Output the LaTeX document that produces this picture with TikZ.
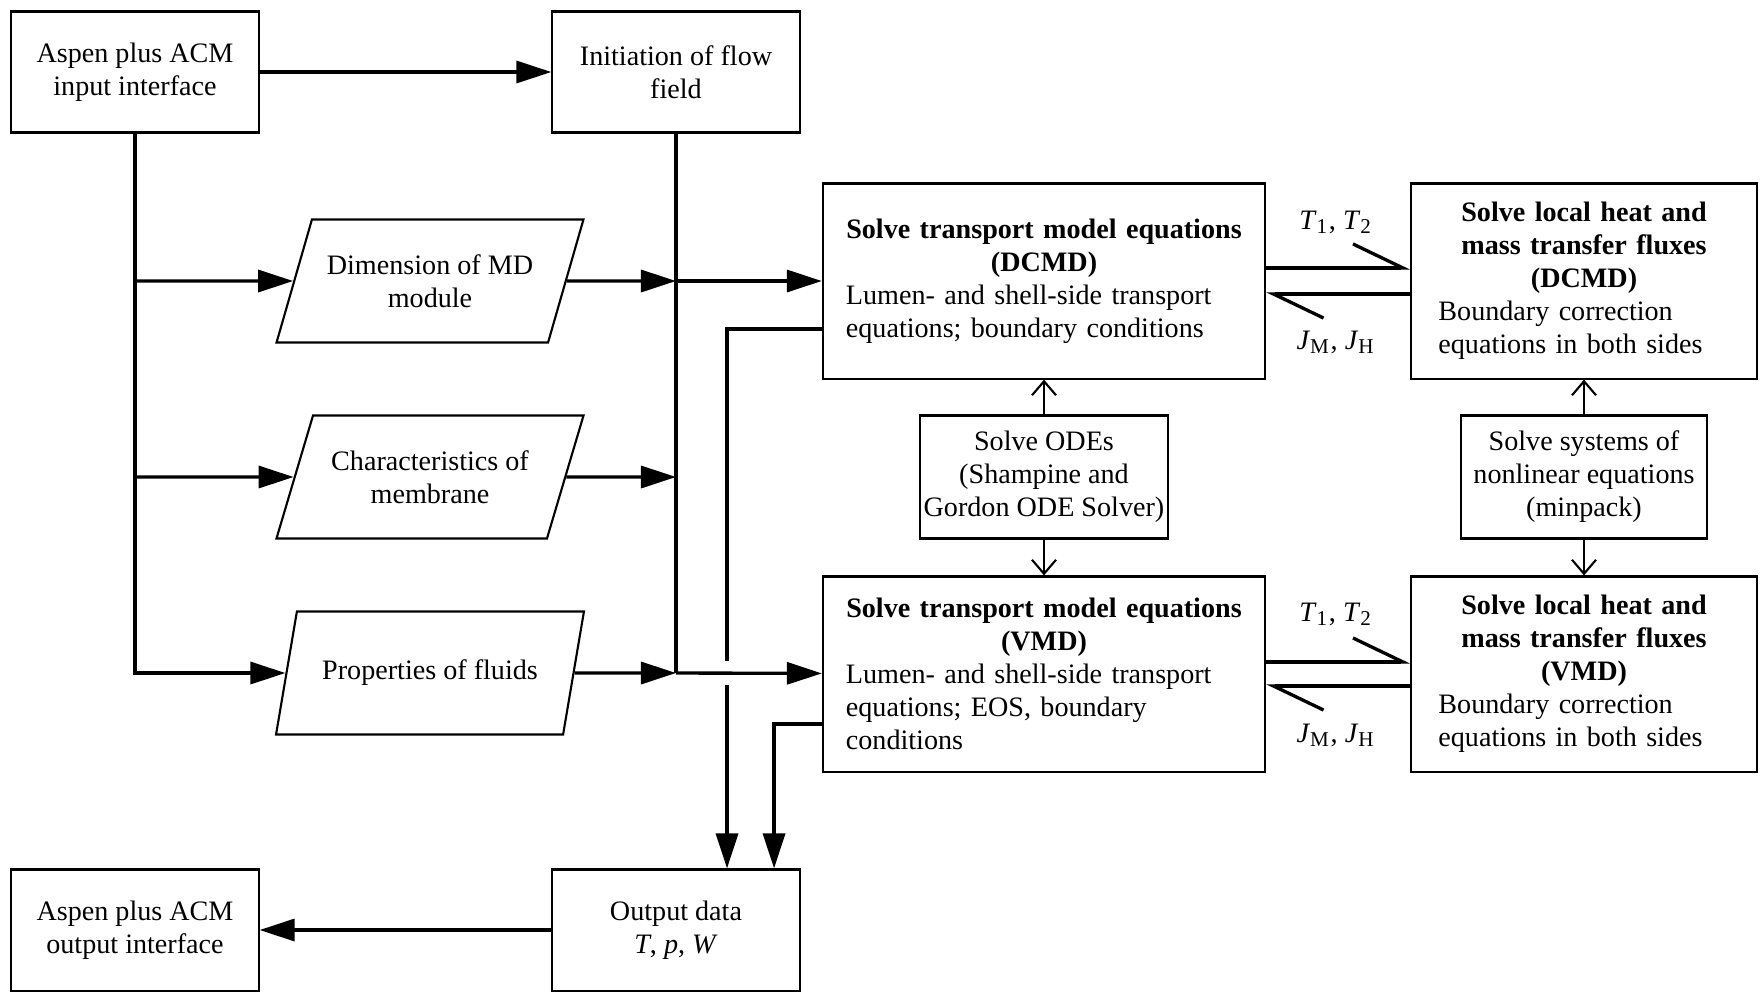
\documentclass[tikz,border=0pt]{standalone}
\usepackage{fontspec}
\setmainfont{Liberation Serif}
\usetikzlibrary{shapes.geometric, positioning, calc, arrows.meta}
\newcommand{\qty}[2]{\textit{#1}\textsubscript{#2}}

\begin{document}
\begin{tikzpicture}[x=0.01cm, y=-0.01cm, font=\fontsize{8}{9.4}\selectfont,
    box/.style={draw, line width=0.6pt, minimum width=2.47cm, minimum height=1.21cm, align=center, inner sep=1pt},
    bigbox/.style={draw, line width=0.6pt, minimum height=1.95cm, text width=3.96cm, inner xsep=0.23cm},
    flxbox/.style={bigbox, text width=2.91cm, inner xsep=0.27cm},
    databox/.style={draw, line width=0.6pt, trapezium, trapezium left angle=62, trapezium right angle=118,
        trapezium stretches=true, minimum height=1.23cm, minimum width=3.09cm, align=center, inner sep=1pt},
    conn/.style={line width=0.95pt, -{Triangle[length=3.5mm, width=2.2mm]}},
    wire/.style={line width=0.95pt},
    solvearr/.style={line width=0.6pt, -{Straight Barb[length=1.4mm, width=2.4mm]}},
    harp/.style={line width=0.95pt, -{Straight Barb[harpoon, length=5mm, width=4.8mm]}}]
    \useasboundingbox (0,0) rectangle (1760,993);

    % Input side
    \node[box] (inp) at (135,72) {Aspen plus ACM\\input interface};
    \node[box] (ini) at (676,72) {Initiation of flow\\field};
    \node[databox] (dim) at (430,281) {Dimension of MD\\module};
    \node[databox] (chr) at (430,477) {Characteristics of\\membrane};
    \node[databox] (fld) at (430,673) {Properties of fluids};

    % Transport models
    \node[bigbox] (dcmd) at (1044,281) {{\centering\bfseries Solve transport model equations\\(DCMD)\par}\raggedright
        Lumen- and shell-side transport\\equations; boundary conditions};
    \node[box, minimum height=1.23cm] (ode) at (1044,477) {Solve ODEs\\(Shampine and\\Gordon ODE Solver)};
    \node[bigbox] (vmd) at (1044,674) {{\centering\bfseries Solve transport model equations\\(VMD)\par}\raggedright
        Lumen- and shell-side transport\\equations; EOS, boundary\\conditions};

    % Local fluxes
    \node[flxbox] (dflx) at (1584,281) {{\centering\bfseries Solve local heat and\\mass transfer fluxes\\(DCMD)\par}\raggedright
        Boundary correction\\equations in both sides};
    \node[box, minimum width=2.46cm, minimum height=1.23cm] (mnp) at (1584,477) {Solve systems of\\nonlinear equations\\(minpack)};
    \node[flxbox] (vflx) at (1584,674) {{\centering\bfseries Solve local heat and\\mass transfer fluxes\\(VMD)\par}\raggedright
        Boundary correction\\equations in both sides};

    % Output side
    \node[box] (out) at (676,930) {Output data\\\textit{T}, \textit{p}, \textit{W}};
    \node[box] (outp) at (135,930) {Aspen plus ACM\\output interface};

    \node (dtt) at (1336,222) {\qty{T}{1}, \qty{T}{2}};
    \node (djj) at (1336,342) {\qty{J}{M}, \qty{J}{H}};
    \node (vtt) at (1336,614) {\qty{T}{1}, \qty{T}{2}};
    \node (vjj) at (1336,735) {\qty{J}{M}, \qty{J}{H}};

    % Feed lines
    \draw[conn] (inp) -- (ini);
    \draw[conn] (inp.south) |- (fld);
    \draw[conn] (inp.south |- dim) -- (dim);
    \draw[conn] (inp.south |- chr) -- (chr);
    \draw[wire] (ini.south) -- (ini.south |- fld);
    \draw[conn] (dim) -- (ini.south |- dim);
    \draw[conn] (chr) -- (ini.south |- chr);
    \draw[conn] (fld) -- (ini.south |- fld);
    \draw[conn] (ini.south |- dim) -- (dcmd);

    % Results to output
    \coordinate (dret) at (823,329);
    \coordinate (vret) at (823,724);
    \draw[conn] (dret) -| ([xshift=0.51cm]out.north);
    \draw[conn] (vret) -| ([xshift=0.98cm]out.north);
    \fill[white] (719,661) rectangle (735,685);
    \draw[conn] (ini.south |- fld) -- (vmd);
    \draw[conn] (out) -- (outp);

    % Solvers
    \draw[solvearr] (ode) -- (dcmd);
    \draw[solvearr] (ode) -- (vmd);
    \draw[solvearr] (mnp) -- (dflx);
    \draw[solvearr] (mnp) -- (vflx);

    % Coupling
    \draw[harp] ([yshift=0.13cm]dcmd.east) -- ([yshift=0.13cm]dflx.west);
    \draw[harp] ([yshift=-0.13cm]dflx.west) -- ([yshift=-0.13cm]dcmd.east);
    \draw[harp] ([yshift=0.12cm]vmd.east) -- ([yshift=0.12cm]vflx.west);
    \draw[harp] ([yshift=-0.12cm]vflx.west) -- ([yshift=-0.12cm]vmd.east);
\end{tikzpicture}
\end{document}
